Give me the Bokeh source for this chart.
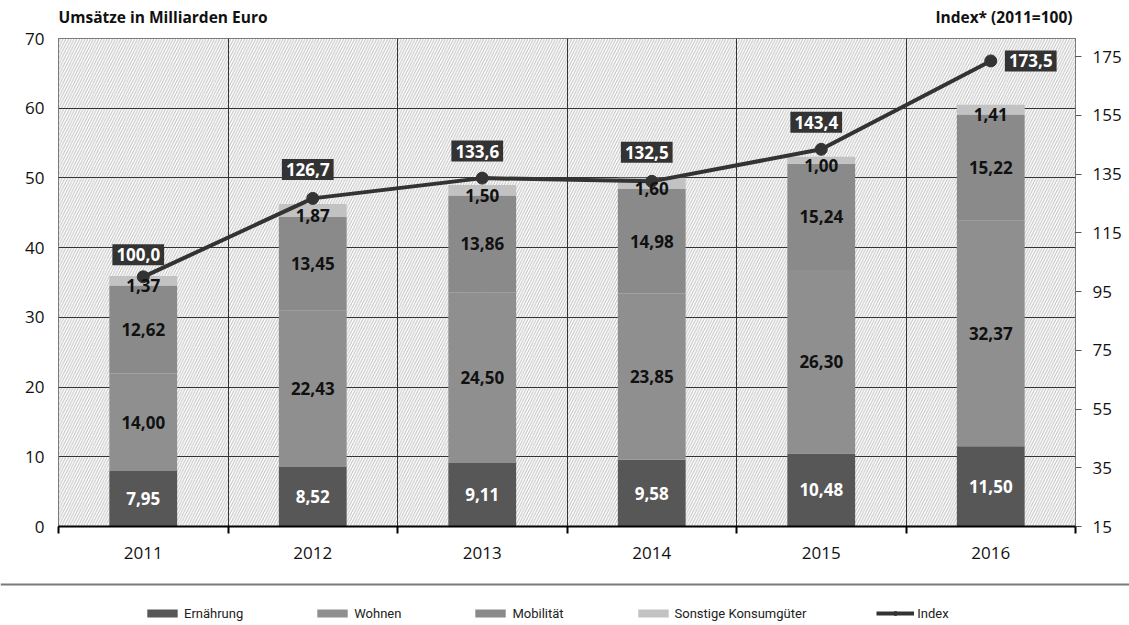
from bokeh.plotting import figure
from bokeh.layouts import column
from bokeh.models import (ColumnDataSource, Range1d, LinearAxis, FixedTicker, BoxAnnotation,
                          Label, LabelSet, Legend, LegendItem)
from bokeh.core.properties import value
from bokeh.embed import file_html
from bokeh.resources import INLINE

years = ["2011", "2012", "2013", "2014", "2015", "2016"]
ernaehrung = [7.95, 8.52, 9.11, 9.58, 10.48, 11.50]
wohnen = [14.00, 22.43, 24.50, 23.85, 26.30, 32.37]
mobilitaet = [12.62, 13.45, 13.86, 14.98, 15.24, 15.22]
sonstige = [1.37, 1.87, 1.50, 1.60, 1.00, 1.41]
index_vals = [100.0, 126.7, 133.6, 132.5, 143.4, 173.5]
left_ticks = [0, 10, 20, 30, 40, 50, 60, 70]
right_ticks = [15, 35, 55, 75, 95, 115, 135, 155, 175]

series_names = ["Ernährung", "Wohnen", "Mobilität", "Sonstige Konsumgüter"]
series_vals = [ernaehrung, wohnen, mobilitaet, sonstige]
colors = ["#575757", "#8f8f8f", "#8a8a8a", "#c2c2c2"]
label_colors = ["white", "#111111", "#111111", "#111111"]

FONT = "Open Sans"
LFONT = "Roboto"
W = 1129

def fmt(v, d=2):
    return f"{v:.{d}f}".replace(".", ",")

n = len(years)
xc = [i + 0.5 for i in range(n)]
bounds = list(range(n + 1))

def bare(h):
    f = figure(width=W, height=h, output_backend="svg", toolbar_location=None,
               x_range=Range1d(0, W), y_range=Range1d(0, h),
               x_axis_location=None, y_axis_location=None, min_border=0,
               frame_align=False)
    f.grid.visible = False
    f.outline_line_color = None
    f.background_fill_color = "white"
    f.border_fill_color = "white"
    return f

# ---- title strip
top = bare(28)
top.add_layout(Label(x=58, y=12, text="Umsätze in Milliarden Euro", text_align="left",
                     text_baseline="middle", text_font=FONT, text_font_style="bold",
                     text_font_size="15.5px", text_color="#111111"))
top.add_layout(Label(x=1072, y=12, text="Index* (2011=100)", text_align="right",
                     text_baseline="middle", text_font=FONT, text_font_style="bold",
                     text_font_size="15.5px", text_color="#111111"))

# ---- main chart
p = figure(width=W, height=550, output_backend="svg", toolbar_location=None,
           x_range=Range1d(0, n), y_range=Range1d(0, 70),
           min_border_left=58, min_border_right=54, min_border_top=10, min_border_bottom=52,
           frame_align=False)
p.background_fill_color = "white"
p.border_fill_color = "white"
p.outline_line_color = "#444444"
p.outline_line_width = 1

p.add_layout(BoxAnnotation(fill_color="white", fill_alpha=1, line_color=None,
                           hatch_pattern="/", hatch_color="#c0c0c0", hatch_scale=5.5,
                           hatch_weight=1, level="image"))

p.extra_y_ranges = {"idx": Range1d(15, 181.13)}

bottom = [0.0] * n
sources = []
for name, vals, col, lc in zip(series_names, series_vals, colors, label_colors):
    tp = [b + v for b, v in zip(bottom, vals)]
    src = ColumnDataSource(dict(x=xc, bottom=bottom, top=tp,
                                mid=[(b + t) / 2 for b, t in zip(bottom, tp)],
                                lab=[fmt(v) for v in vals]))
    sources.append(src)
    p.vbar(x="x", width=0.4, bottom="bottom", top="top", source=src,
           fill_color=col, line_color=None)
    yoff = -5 if name == "Sonstige Konsumgüter" else 0
    p.add_layout(LabelSet(x="x", y="mid", text="lab", source=src, text_align="center",
                          text_baseline="middle", text_color=lc, text_font=value(FONT),
                          text_font_style="bold", text_font_size="17px", y_offset=yoff))
    bottom = tp

isrc = ColumnDataSource(dict(x=xc, y=index_vals, lab=[fmt(v, 1) for v in index_vals],
                             xo=[-5] * (n - 1) + [40], yo=[-22, -29, -27, -29, -27, 0]))
p.line(x="x", y="y", source=isrc, y_range_name="idx", line_color="#333333", line_width=4)
p.scatter(x="x", y="y", source=isrc, y_range_name="idx", size=12,
          fill_color="#333333", line_color="#333333")
p.text(x="x", y="y", text="lab", source=isrc, y_range_name="idx",
       x_offset="xo", y_offset="yo", text_align="center", text_baseline="middle",
       text_color="white", text_font=value(FONT), text_font_style="bold",
       text_font_size="17px", background_fill_color="#333333",
       background_fill_alpha=1, padding=4)

p.xaxis.ticker = FixedTicker(ticks=xc, minor_ticks=bounds)
p.xaxis.major_label_overrides = {x: y for x, y in zip(xc, years)}
p.xaxis.major_tick_line_color = None
p.xaxis.minor_tick_out = 7
p.xaxis.minor_tick_in = 0
p.xaxis.minor_tick_line_color = "black"
p.xaxis.minor_tick_line_width = 2
p.xaxis.axis_line_color = "black"
p.xaxis.axis_line_width = 2
p.xaxis.major_label_text_font = FONT
p.xaxis.major_label_text_font_size = "17px"
p.xaxis.major_label_text_color = "#111111"
p.xaxis.major_label_standoff = 13

p.yaxis.ticker = FixedTicker(ticks=left_ticks)
p.yaxis.major_tick_line_color = None
p.yaxis.minor_tick_line_color = None
p.yaxis.axis_line_color = None
p.yaxis.major_label_text_font = FONT
p.yaxis.major_label_text_font_size = "17px"
p.yaxis.major_label_text_color = "#111111"
p.yaxis.major_label_standoff = 8

ry = LinearAxis(y_range_name="idx", ticker=FixedTicker(ticks=right_ticks))
ry.major_tick_out = 6
ry.major_tick_in = 0
ry.major_tick_line_color = "#555555"
ry.minor_tick_line_color = None
ry.axis_line_color = None
ry.major_label_text_font = FONT
ry.major_label_text_font_size = "17px"
ry.major_label_text_color = "#111111"
ry.major_label_standoff = 11
p.add_layout(ry, "right")

p.xgrid.ticker = FixedTicker(ticks=bounds[1:-1])
p.ygrid.ticker = FixedTicker(ticks=left_ticks[1:-1])
p.xgrid.grid_line_color = "#333333"
p.ygrid.grid_line_color = "#333333"
p.grid.grid_line_width = 1

# ---- legend strip (legend proxies use the real data on off-screen ranges)
bot = bare(47)
bot.extra_x_ranges = {"off": Range1d(1000, 1001)}
bot.extra_y_ranges = {"offy": Range1d(1000, 1001)}
bot.add_layout(BoxAnnotation(left=0, right=W, bottom=40, top=42,
                             fill_color="#7a7a7a", fill_alpha=1, line_color=None))
leg_r = []
for col, src in zip(colors, sources):
    leg_r.append(bot.vbar(x="x", top="top", bottom="bottom", width=0.4, source=src,
                          x_range_name="off", y_range_name="offy",
                          fill_color=col, line_color=None))
lr = bot.line(x="x", y="y", source=isrc, x_range_name="off", y_range_name="offy",
              line_color="#333333", line_width=4)
cr = bot.scatter(x="x", y="y", source=isrc, x_range_name="off", y_range_name="offy",
                 size=8, fill_color="#333333", line_color="#333333")
items = [LegendItem(label=nm, renderers=[r]) for nm, r in zip(series_names, leg_r)]
items.append(LegendItem(label="Index", renderers=[lr, cr]))
legend = Legend(items=items, orientation="horizontal", location=(143, 4),
                spacing=70, glyph_width=38, glyph_height=10, label_standoff=3,
                label_text_font=LFONT, label_text_font_size="13px",
                label_text_color="#222222", border_line_color=None, background_fill_alpha=0,
                padding=0, margin=0, label_height=16)
bot.add_layout(legend, "center")

layout = column(top, p, bot, spacing=0)
open("out.html", "w").write(file_html(layout, INLINE))
